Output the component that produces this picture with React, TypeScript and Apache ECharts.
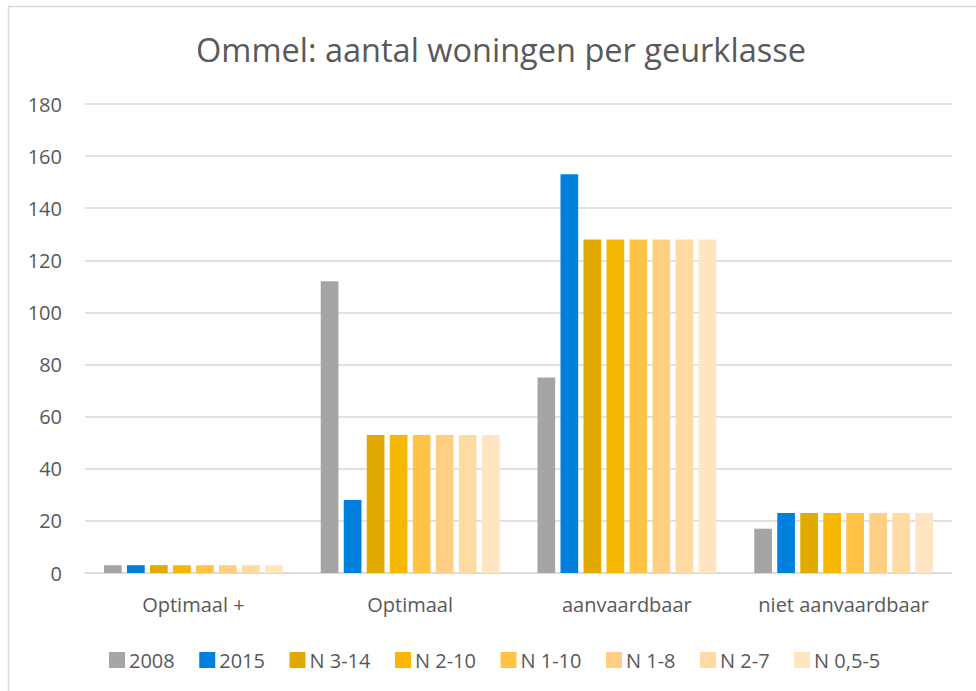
import React, { useEffect, useRef } from "react";
import * as echarts from "echarts";

const categories = ["Optimaal +", "Optimaal", "aanvaardbaar", "niet aanvaardbaar"];
const seriesNames = ["2008", "2015", "N 3-14", "N 2-10", "N 1-10", "N 1-8", "N 2-7", "N 0,5-5"];
const s2008 = [3, 112, 75, 17];
const s2015 = [3, 28, 153, 23];
const sN314 = [3, 53, 128, 23];
const sN210 = [3, 53, 128, 23];
const sN110 = [3, 53, 128, 23];
const sN18 = [3, 53, 128, 23];
const sN27 = [3, 53, 128, 23];
const sN055 = [3, 53, 128, 23];
const seriesValues = [s2008, s2015, sN314, sN210, sN110, sN18, sN27, sN055];
const colors = ["#A5A5A5", "#0080DC", "#E1AA00", "#F6B900", "#FFC446", "#FFD083", "#FFDBA3", "#FFE5C2"];
const yTicks = { min: 0, max: 180, interval: 20 };
const title = "Ommel: aantal woningen per geurklasse";

const FONT = "'Open Sans', Lato, sans-serif";
const TXT = "#595959";

export default function App() {
  const ref = useRef<HTMLDivElement>(null);
  useEffect(() => {
    if (!ref.current) return;
    const chart = echarts.init(ref.current, undefined, { renderer: "svg" });
    chart.setOption({
      animation: false,
      backgroundColor: "#ffffff",
      textStyle: { fontFamily: FONT },
      title: {
        text: title,
        left: 496,
        top: 28,
        textAlign: "center",
        textStyle: { fontFamily: FONT, fontSize: 32.5, fontWeight: "normal", color: TXT },
      },
      graphic: [
        {
          type: "rect",
          shape: { x: 8.5, y: 6.5, width: 1200, height: 1200 },
          style: { fill: "none", stroke: "#D9D9D9", lineWidth: 1.5 },
          silent: true,
        },
      ],
      legend: {
        top: 650,
        left: 104,
        padding: [0, 0, 0, 5],
        itemWidth: 16,
        itemHeight: 16,
        itemGap: 24.5,
        icon: "rect",
        textStyle: { fontFamily: FONT, fontSize: 20, color: TXT, padding: [0, 0, 0, -1] },
        data: seriesNames,
      },
      grid: { left: 85, right: 24, top: 104, bottom: 118, containLabel: false },
      xAxis: {
        type: "category",
        data: categories,
        axisLine: { lineStyle: { color: "#D9D9D9", width: 1.5 } },
        axisTick: { show: false },
        axisLabel: { fontFamily: FONT, fontSize: 20, color: TXT, margin: 21, interval: 0, hideOverlap: false },
      },
      yAxis: {
        type: "value",
        min: yTicks.min,
        max: yTicks.max,
        interval: yTicks.interval,
        axisLine: { show: false },
        axisTick: { show: false },
        splitLine: { lineStyle: { color: "#D9D9D9", width: 1.5 } },
        axisLabel: { fontFamily: FONT, fontSize: 20, color: TXT, margin: 23 },
      },
      series: seriesNames.map((name, i) => ({
        name,
        type: "bar",
        data: seriesValues[i],
        barWidth: 17.7,
        barGap: "30%",
        itemStyle: { color: colors[i] },
      })),
    });
    return () => chart.dispose();
  }, []);
  return (
    <div
      ref={ref}
      style={{ position: "absolute", left: 0, top: 0, width: 976, height: 691 }}
    />
  );
}
